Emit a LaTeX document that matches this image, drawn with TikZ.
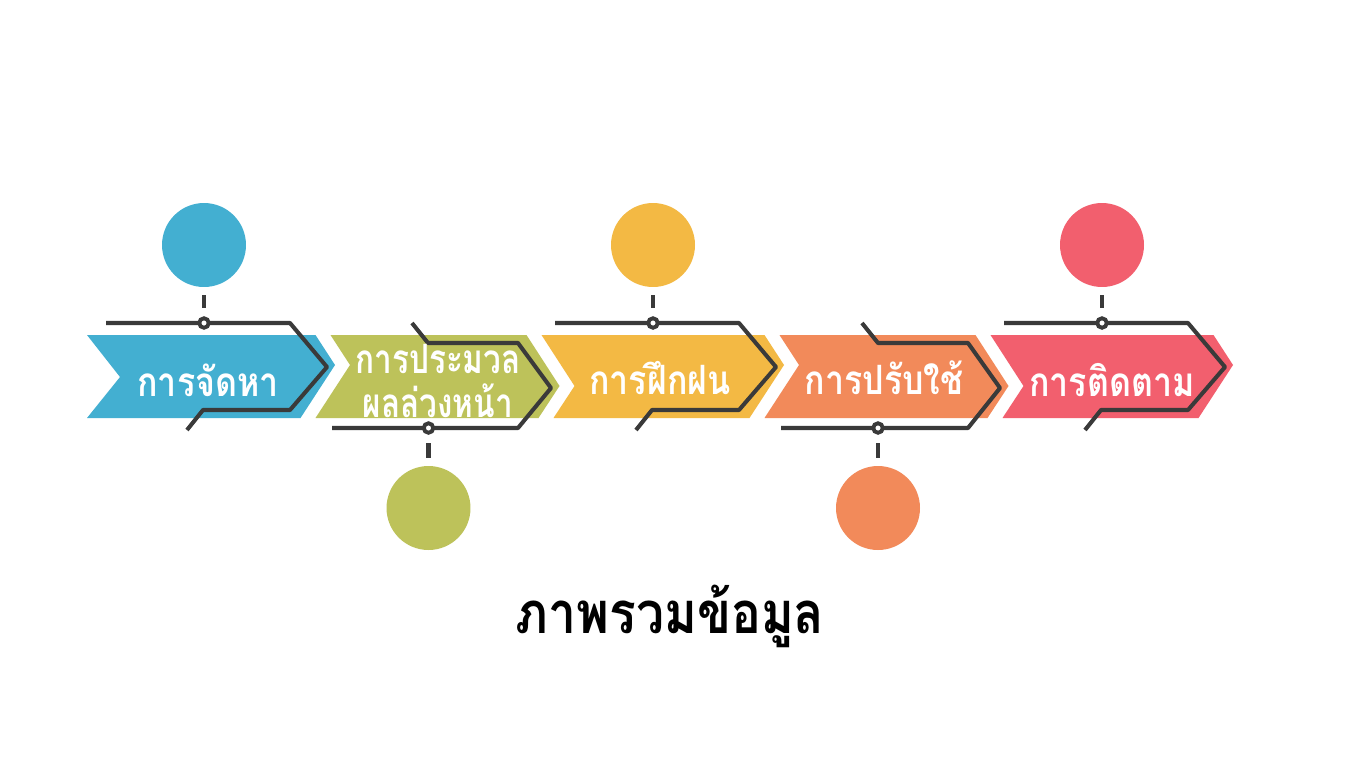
\documentclass[tikz,border=0pt]{standalone}
\usepackage{fontspec}
\usepackage{graphicx}
\newfontfamily\thai[Script=Thai]{Loma}
\definecolor{cblue}{HTML}{43AFD1}
\definecolor{cgreen}{HTML}{BDC25A}
\definecolor{cyellow}{HTML}{F3B944}
\definecolor{corange}{HTML}{F28A5A}
\definecolor{cred}{HTML}{F25F6E}
\definecolor{cdark}{HTML}{3A3A3A}
\newcommand{\sq}[1]{\scalebox{0.84}[1]{#1}}
\newcommand{\sqq}[1]{\scalebox{0.78}[1]{#1}}
\begin{document}
\begin{tikzpicture}[x=0.02cm,y=-0.02cm,
  bigdot/.style={circle,minimum size=1.68cm,inner sep=0pt},
  smalldot/.style={circle,draw=cdark,fill=white,line width=2.2pt,minimum size=0.19cm,inner sep=0pt},
  wire/.style={draw=cdark,line width=2.3pt,line join=round},
  tick/.style={draw=cdark,line width=2.3pt,shorten <=4.5pt,shorten >=4.5pt},
  lbl/.style={text=white,font=\thai\bfseries\fontsize{23}{25}\selectfont,align=center,inner sep=0pt}]
\useasboundingbox (0,0) rectangle (1365,768);
\fill[white] (0,0) rectangle (1365,768);
% chevrons
\fill[cblue] (87,335) -- (315.5,335) -- (335,365) -- (300.5,418) -- (87,418) -- (120,377) -- cycle;
\fill[cgreen] (330.5,335) -- (526.5,335) -- (559.5,386) -- (538.5,418) -- (315.5,418) -- (350,365) -- cycle;
\fill[cyellow] (541.5,335) -- (764.5,335) -- (784,365) -- (749.5,418) -- (553.5,418) -- (574.5,386) -- cycle;
\fill[corange] (779.5,335) -- (975.5,335) -- (1008.5,386) -- (987.5,418) -- (764.5,418) -- (799,365) -- cycle;
\fill[cred] (990.5,335) -- (1213.5,335) -- (1233,365) -- (1198.5,418) -- (1002.5,418) -- (1023.5,386) -- cycle;
% wires
\draw[wire] (106,323) -- (290,323) -- (327,367) -- (290,410) -- (203,410) -- (187,430);
\draw[wire] (412,323) -- (428,343) -- (518,343) -- (551,388) -- (518,428) -- (332,428);
\draw[wire] (555,323) -- (739,323) -- (776,367) -- (739,410) -- (652,410) -- (636,430);
\draw[wire] (862,323) -- (878,343) -- (968,343) -- (1000,388) -- (968,428) -- (781,428);
\draw[wire] (1004,323) -- (1188,323) -- (1225,367) -- (1188,410) -- (1101,410) -- (1085,430);
% small dots
\node[smalldot] (s1) at (204,323) {};
\node[smalldot] (s2) at (428.5,428) {};
\node[smalldot] (s3) at (653,323) {};
\node[smalldot] (s4) at (878,428) {};
\node[smalldot] (s5) at (1102,323) {};
% big dots
\node[bigdot,fill=cblue] (b1) at (204,245) {};
\node[bigdot,fill=cgreen] (b2) at (428.5,508) {};
\node[bigdot,fill=cyellow] (b3) at (653,245) {};
\node[bigdot,fill=corange] (b4) at (878,508) {};
\node[bigdot,fill=cred] (b5) at (1102,245) {};
% ticks
\draw[tick] (b1) -- (s1);
\draw[tick] (b2) -- (s2);
\draw[tick] (b3) -- (s3);
\draw[tick] (b4) -- (s4);
\draw[tick] (b5) -- (s5);
% labels
\node[lbl] (t1) at (208,380) {\sq{การจัดหา}};
\node[lbl] (t2) at (438,381) {\sqq{การประมวล}\\[0pt]\sqq{ผลล่วงหน้า}};
\node[lbl] (t3) at (660,378) {\sq{การฝึกฝน}};
\node[lbl] (t4) at (884,378) {\sq{การปรับใช้}};
\node[lbl] (t5) at (1112,380) {\sq{การติดตาม}};
\node[font=\thai\bfseries\fontsize{33}{38}\selectfont,text=black] (title) at (670,616) {\scalebox{0.86}[1]{ภาพรวมข้อมูล}};
\end{tikzpicture}
\end{document}
